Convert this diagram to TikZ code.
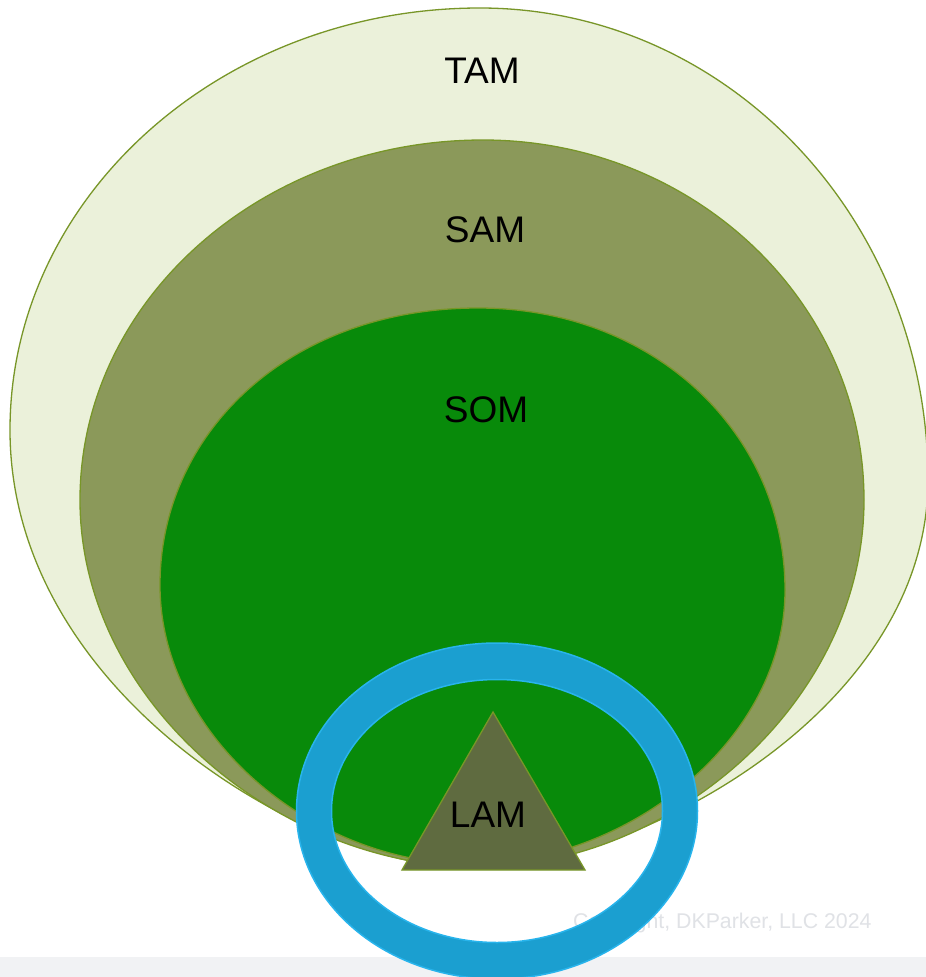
\documentclass[tikz,border=0pt]{standalone}
\usepackage{fontspec}
\setmainfont{Liberation Sans}
\definecolor{tamfill}{RGB}{235,241,218}
\definecolor{samfill}{RGB}{139,153,90}
\definecolor{somfill}{RGB}{8,138,10}
\definecolor{lamfill}{RGB}{95,107,64}
\definecolor{edgegreen}{RGB}{120,150,40}
\definecolor{ringblue}{RGB}{27,159,208}
\definecolor{ringedge}{RGB}{40,180,236}
\definecolor{stripgray}{RGB}{241,242,244}
\definecolor{copygray}{RGB}{224,226,230}
\tikzset{
  region/.style={draw=edgegreen, line width=1.3pt},
  lbl/.style={font=\fontsize{37}{40}\selectfont, text=black, inner sep=0pt},
}
\begin{document}
\begin{tikzpicture}[x=1pt,y=-1pt]
\useasboundingbox (0,0) rectangle (926,977);
\clip (0,0) rectangle (926,977);
\fill[white] (0,0) rectangle (926,977);
% bottom strip
\fill[stripgray] (0,957) rectangle (926,977);
% TAM
\path[region, fill=tamfill] (480,8)
  .. controls (221,8) and (10,197) .. (10,430)
  .. controls (10,693) and (310,868) .. (472,868)
  .. controls (632,868) and (928,713) .. (928,480)
  .. controls (928,219) and (727,8) .. (480,8) -- cycle;
% SAM
\path[region, fill=samfill] (483,140)
  .. controls (261,140) and (80,301) .. (80,500)
  .. controls (80,702) and (279,867) .. (478,867)
  .. controls (671,867) and (864,702) .. (864,500)
  .. controls (864,301) and (693,140) .. (483,140) -- cycle;
% SOM
\path[region, fill=somfill] (478,308)
  .. controls (290,308) and (160,432) .. (160,585)
  .. controls (160,738) and (315,864) .. (470,864)
  .. controls (627,864) and (785,741) .. (785,590)
  .. controls (785,434) and (655,308) .. (478,308) -- cycle;
% LAM triangle
\path[region, fill=lamfill, line join=miter] (493,712) -- (585,870) -- (402,870) -- cycle;
% labels
\node[lbl] (tam) at (482,71) {TAM};
\node[lbl] (sam) at (485,230) {SAM};
\node[lbl] (som) at (486,410) {SOM};
\node[lbl] (lam) at (488,815) {LAM};
% copyright
\node[font=\fontsize{21.3}{24}\selectfont, text=copygray, anchor=west, inner sep=0pt] (copy) at (573,923) {Copyright, DKParker, LLC 2024};
% blue ring
\path[fill=ringblue, even odd rule, draw=ringedge, line width=1.5pt]
  (497,811) ellipse [x radius=200.5, y radius=168]
  (497,811) ellipse [x radius=165.5, y radius=131.5];
\end{tikzpicture}
\end{document}
